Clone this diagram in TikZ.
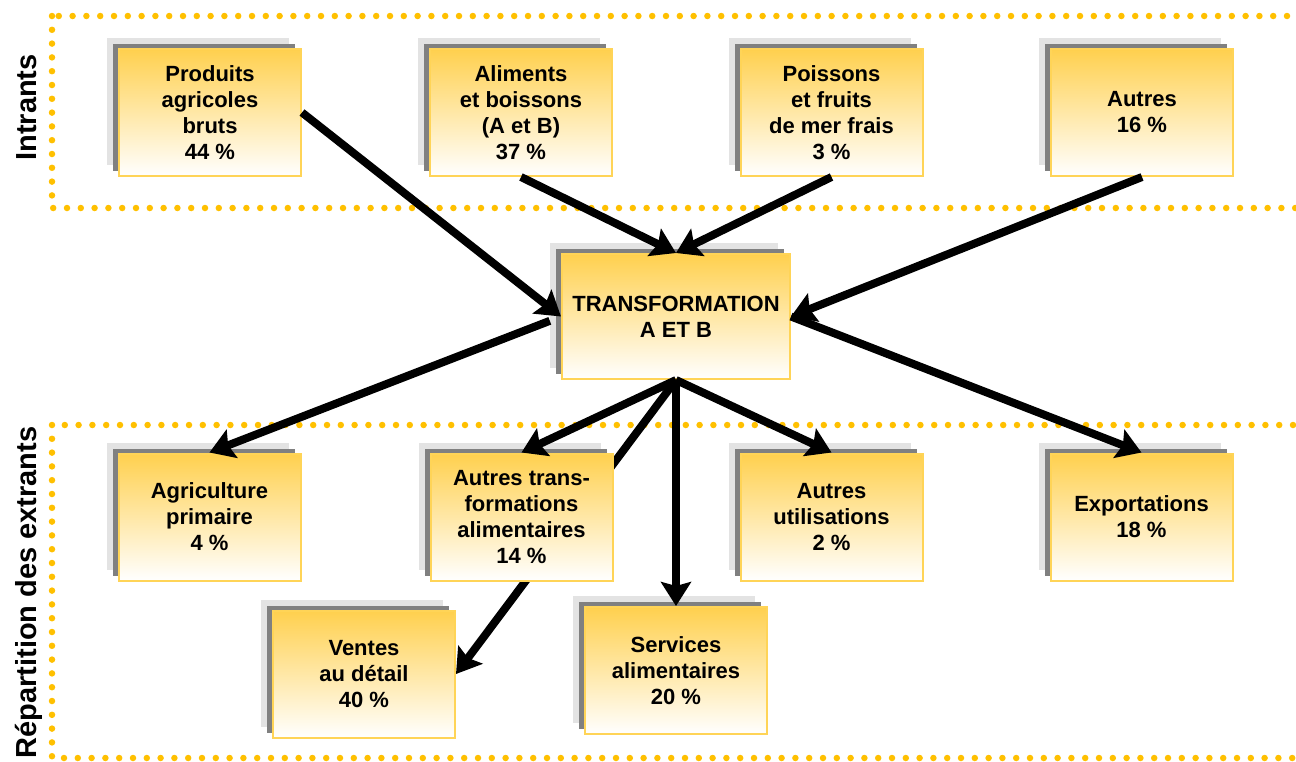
\documentclass[tikz,border=0pt]{standalone}
\usepackage{fontspec}
\setmainfont{Liberation Sans}
\usetikzlibrary{arrows.meta, shadows}
\pgfdeclarelayer{background}
\pgfsetlayers{background,main}
\definecolor{boxtop}{HTML}{FFD04E}
\definecolor{boxline}{HTML}{FFD457}
\definecolor{dotline}{HTML}{FFC000}
\definecolor{shadowdark}{HTML}{808080}
\definecolor{shadowlight}{HTML}{E3E3E3}

\begin{document}
\begin{tikzpicture}[
    x=1pt, y=-1pt,
    font=\fontsize{22}{26}\selectfont\bfseries,
    card/.style={draw=boxline, line width=2pt, top color=boxtop, bottom color=white,
        minimum width=182pt, minimum height=127pt, inner sep=0pt, align=center,
        copy shadow={shadow xshift=-12pt, shadow yshift=11pt, fill=shadowlight, draw=none},
        copy shadow={shadow xshift=-6pt, shadow yshift=5pt, fill=shadowdark, draw=none}},
    hub/.style={card, minimum width=228pt, minimum height=125pt},
    sidelab/.style={font=\fontsize{29}{34}\selectfont\bfseries, rotate=90, anchor=base},
    dotframe/.style={draw=dotline, line width=6.5pt, line cap=round,
        dash pattern=on 0pt off 13.8pt},
    flow/.style={-{Stealth[length=24pt, width=30pt, inset=4pt]}, line width=8pt}
]
\useasboundingbox (0,0) rectangle (1296,761);

% =====================================================
% FRAMES AND SIDE LABELS
% =====================================================
\begin{pgfonlayer}{background}
\draw[dotframe] (52,16) rectangle (1340,208);
\draw[dotframe] (52,425) rectangle (1340,758);
\end{pgfonlayer}

\node[sidelab] (lin)  at (36,107.5) {Intrants};
\node[sidelab] (lout) at (36,592.5) {Répartition des extrants};

% =====================================================
% INPUTS (TOP ROW)
% =====================================================
\node[card] (inprod)  at (210,112.5)  {Produits\\agricoles\\bruts\\44~\%};
\node[card] (inalim)  at (521,112.5)  {Aliments\\et boissons\\(A et B)\\37~\%};
\node[card] (inpois)  at (831.5,112.5) {Poissons\\et fruits\\de mer frais\\3~\%};
\node[card] (inautre) at (1142,112.5) {Autres\\16~\%};

% Processing hub
\node[hub] (trans) at (676,316.5) {TRANSFORMATION\\A ET B};

% =====================================================
% OUTPUTS (BOTTOM ROWS)
% =====================================================
\node[card] (outagri)  at (209.5,517)  {Agriculture\\primaire\\4~\%};
\node[card] (outtrans) at (521.5,517)  {Autres trans-\\formations\\alimentaires\\14~\%};
\node[card] (oututil)  at (831.5,517)  {Autres\\utilisations\\2~\%};
\node[card] (outexp)   at (1141.5,517) {Exportations\\18~\%};
\node[card] (outvente) at (364,674)    {Ventes\\au détail\\40~\%};
\node[card] (outserv)  at (676,670.5)  {Services\\alimentaires\\20~\%};

% Inputs -> hub
\draw[flow] (inprod.east) -- (trans.west);
\draw[flow] (inalim.south) -- (trans.north);
\draw[flow] (inpois.south) -- (trans.north);
\draw[flow] (inautre.south) -- (trans.east);

% Hub -> outputs
\draw[flow, shorten <=12pt] (trans.west) -- (outagri.north);
\draw[flow] (trans.south) -- (outtrans.north);
\draw[flow] (trans.south) -- (oututil.north);
\draw[flow] (trans.south) -- (outserv.north);
\draw[flow] (trans.east) -- (outexp.north);
% passes behind the "Autres trans-" card
\begin{pgfonlayer}{background}
\draw[flow] (trans.south) -- (outvente.east);
\end{pgfonlayer}

\end{tikzpicture}
\end{document}
